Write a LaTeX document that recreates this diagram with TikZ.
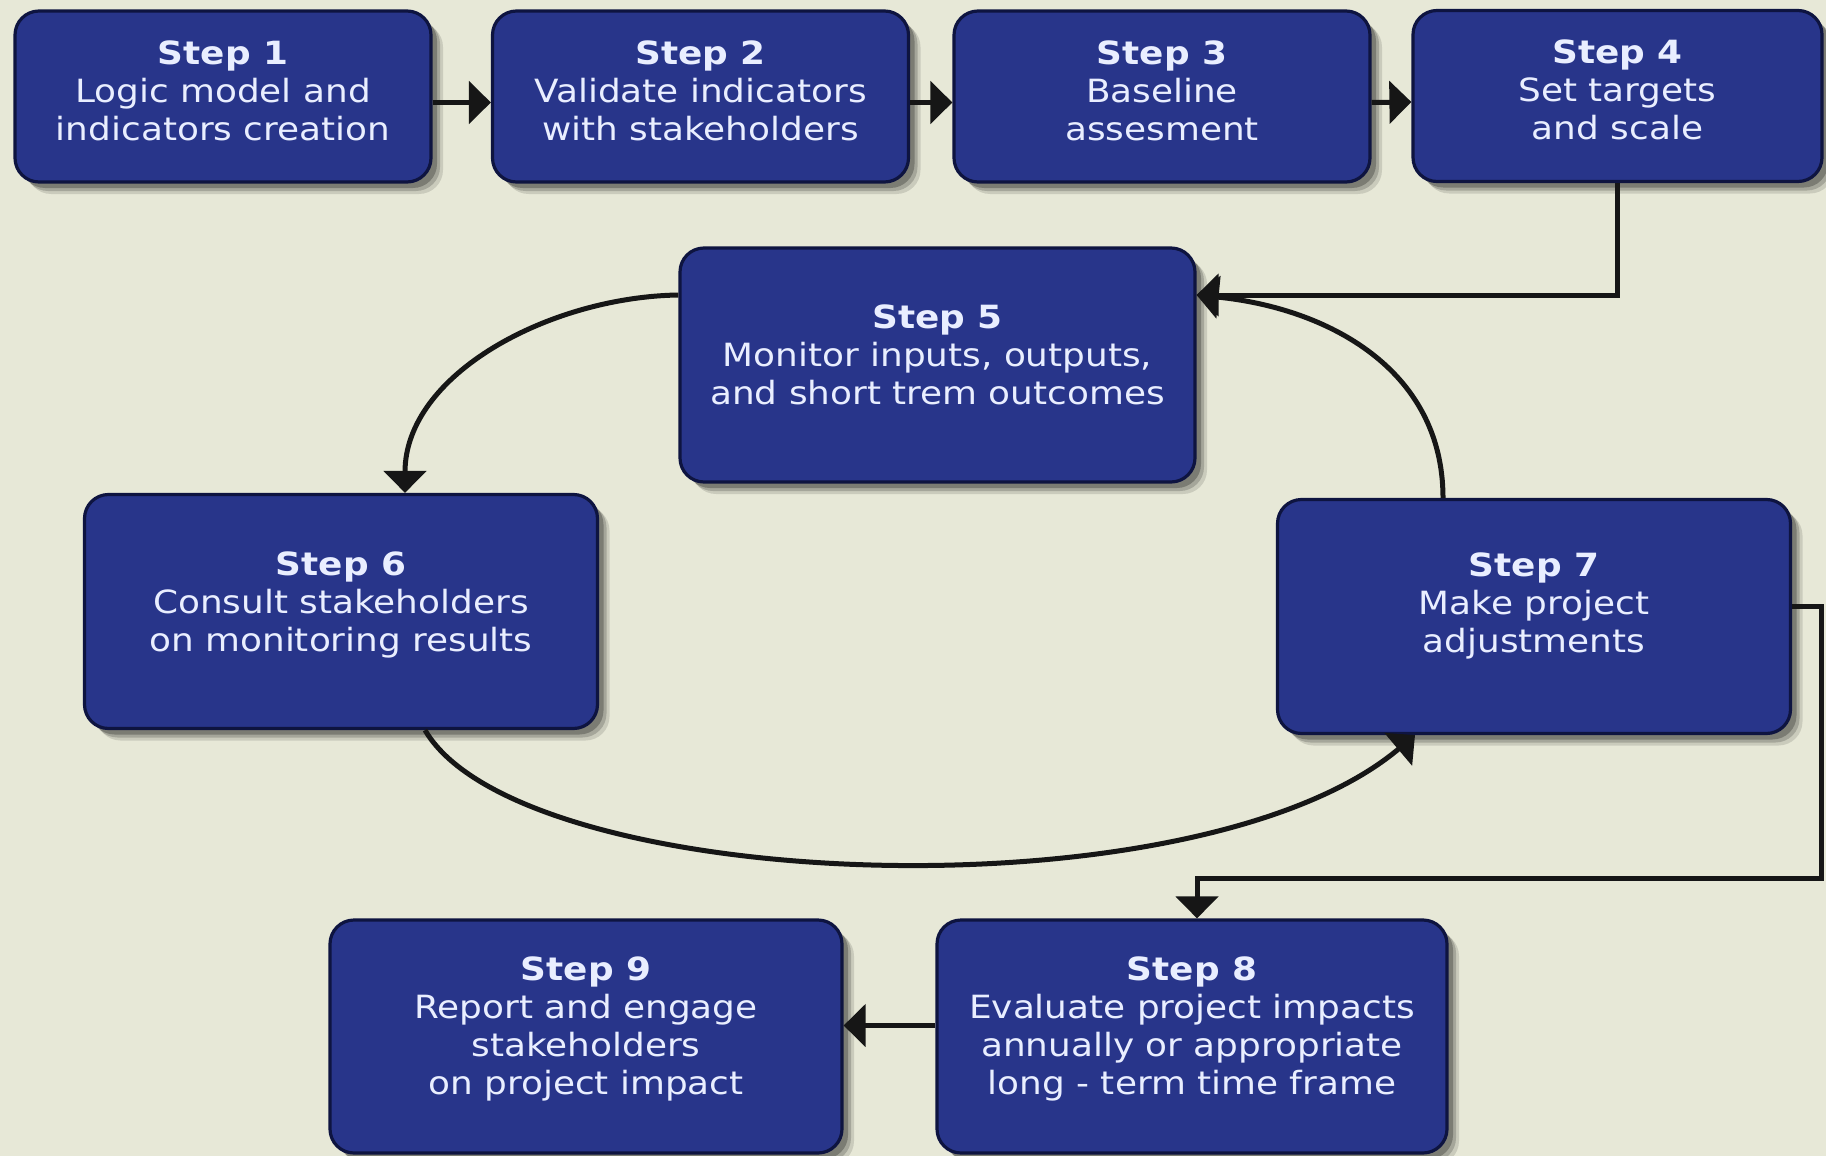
\documentclass[tikz,border=0pt]{standalone}
\usepackage{fontspec}
\setmainfont[FakeStretch=1.12]{DejaVu Sans}
\usetikzlibrary{shadows,arrows.meta,calc}
\definecolor{bgc}{HTML}{E7E8D7}
\definecolor{boxfill}{HTML}{28358A}
\definecolor{boxline}{HTML}{0E1440}
\definecolor{txtc}{HTML}{E9EEFF}
\definecolor{arrc}{HTML}{161616}
\begin{document}
\begin{tikzpicture}[x=0.5pt,y=-0.5pt,
  stepbox/.style={rectangle, rounded corners=12pt, fill=boxfill, draw=boxline,
    line width=1.6pt, inner sep=0pt,
    drop shadow={shadow xshift=6pt,shadow yshift=-6pt,opacity=0.12,fill=black},
    drop shadow={shadow xshift=4.5pt,shadow yshift=-4.5pt,opacity=0.18,fill=black},
    drop shadow={shadow xshift=3pt,shadow yshift=-3pt,opacity=0.25,fill=black}},
  topbox/.style={stepbox, minimum width=208pt, minimum height=85.5pt},
  bigbox/.style={stepbox, minimum width=256.5pt, minimum height=117pt},
  steptext/.style={text=txtc, align=center, font=\fontsize{16}{19}\selectfont, inner sep=0pt},
  conn/.style={draw=arrc, line width=2.5pt, -{Triangle[length=11pt,width=21pt]}}
]
\fill[bgc] (0,0) rectangle (1826,1156);
\useasboundingbox (0,0) rectangle (1826,1156);

% boxes
\node[topbox] (s1) at (223,96.5) {};
\node[topbox] (s2) at (700.5,96.5) {};
\node[topbox] (s3) at (1162,96.5) {};
\node[topbox, minimum width=204.5pt] (s4) at (1617.5,96) {};
\node[bigbox, minimum width=257.5pt] (s5) at (937.5,365) {};
\node[bigbox] (s6) at (341,611.5) {};
\node[bigbox] (s7) at (1534,616.5) {};
\node[bigbox, minimum width=255pt, minimum height=116.5pt] (s8) at (1192,1036.5) {};
\node[bigbox, minimum width=256pt, minimum height=116.5pt] (s9) at (586,1036.5) {};

% texts
\node[steptext] (t1) at ([yshift=3pt]s1.center) {\textbf{Step 1}\\Logic model and\\indicators creation};
\node[steptext] (t2) at ([yshift=3pt]s2.center) {\textbf{Step 2}\\Validate indicators\\with stakeholders};
\node[steptext] (t3) at ([yshift=3pt]s3.center) {\textbf{Step 3}\\Baseline\\assesment};
\node[steptext] (t4) at ([yshift=3pt]s4.center) {\textbf{Step 4}\\Set targets\\and scale};
\node[steptext] (t5) at ([yshift=5pt]s5.center) {\textbf{Step 5}\\Monitor inputs, outputs,\\and short trem outcomes};
\node[steptext] (t6) at ([yshift=3.5pt]s6.center) {\textbf{Step 6}\\Consult stakeholders\\on monitoring results};
\node[steptext] (t7) at ([yshift=5.5pt]s7.center) {\textbf{Step 7}\\Make project\\adjustments};
\node[steptext] (t8) at ([yshift=4pt]s8.center) {\textbf{Step 8}\\Evaluate project impacts\\annually or appropriate\\long - term time frame};
\node[steptext] (t9) at ([yshift=4pt]s9.center) {\textbf{Step 9}\\Report and engage\\stakeholders\\on project impact};

% connectors
\draw[conn] ([yshift=-3pt]s1.east) -- ([yshift=-3pt]s2.west);
\draw[conn] ([yshift=-3pt]s2.east) -- ([yshift=-3pt]s3.west);
\draw[conn] ([yshift=-3pt]s3.east) -- ([yshift=-3pt]s4.west);
\draw[conn] (s4.south) |- ([yshift=35pt]s5.east);
\draw[conn] ([yshift=35pt]s5.west) .. controls (550,297) and (405,374) .. ([xshift=32pt]s6.north);
\draw[conn] ([xshift=-45.5pt]s7.north) .. controls (1443,369) and (1327,308) .. ([yshift=35pt]s5.east);
\draw[conn] ([xshift=42pt]s6.south) .. controls (520,893.5) and (1195.7,920.3) .. ([xshift=-59.5pt]s7.south);
\coordinate (r2) at (1821,878);
\draw[conn] ([yshift=5pt]s7.east) -| (r2) -| ([xshift=2.5pt]s8.north);
\draw[conn] ([yshift=5.5pt]s8.west) -- ([yshift=5.5pt]s9.east);
\end{tikzpicture}
\end{document}
